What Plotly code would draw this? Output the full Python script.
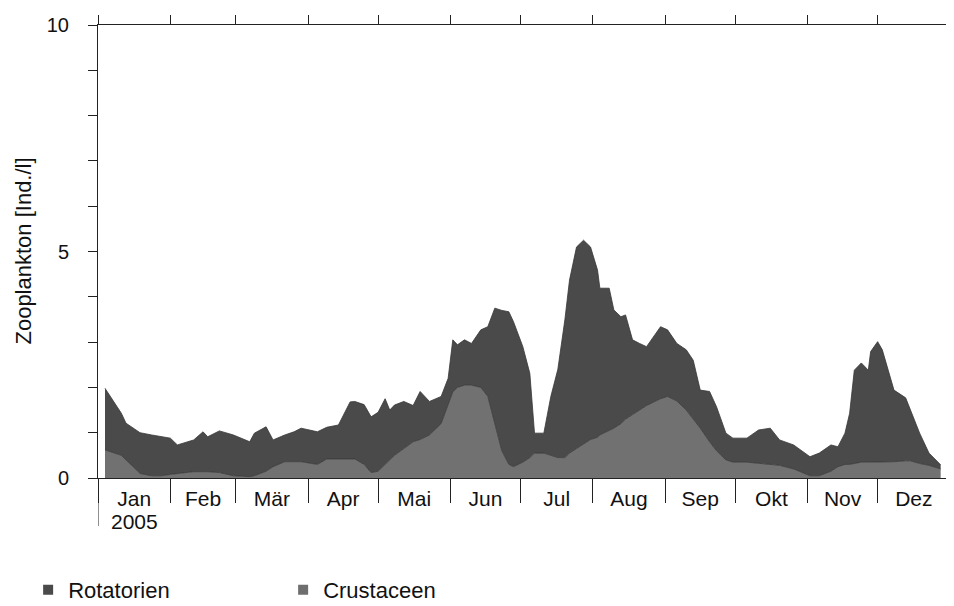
import pandas as pd
import plotly.graph_objects as go

# ---- data ----
dates = [
    "2005-01-04", "2005-01-08", "2005-01-11", "2005-01-13", "2005-01-19", "2005-01-24", "2005-01-28",
    "2005-02-01", "2005-02-04", "2005-02-11", "2005-02-15", "2005-02-17", "2005-02-22", "2005-02-28",
    "2005-03-07", "2005-03-09", "2005-03-14", "2005-03-17", "2005-03-22", "2005-03-26", "2005-03-29",
    "2005-04-05", "2005-04-09", "2005-04-14", "2005-04-19", "2005-04-21", "2005-04-25", "2005-04-28",
    "2005-05-01", "2005-05-04", "2005-05-06", "2005-05-08", "2005-05-12", "2005-05-16", "2005-05-19",
    "2005-05-23", "2005-05-28", "2005-05-31",
    "2005-06-02", "2005-06-04", "2005-06-07", "2005-06-10", "2005-06-14", "2005-06-17", "2005-06-20",
    "2005-06-23", "2005-06-26", "2005-06-28",
    "2005-07-02", "2005-07-05", "2005-07-07", "2005-07-11", "2005-07-14", "2005-07-17", "2005-07-20",
    "2005-07-22", "2005-07-25", "2005-07-28", "2005-07-31",
    "2005-08-03", "2005-08-04", "2005-08-08", "2005-08-10", "2005-08-13", "2005-08-15", "2005-08-18",
    "2005-08-21", "2005-08-24", "2005-08-30",
    "2005-09-02", "2005-09-06", "2005-09-10", "2005-09-13", "2005-09-16", "2005-09-20", "2005-09-23",
    "2005-09-27", "2005-09-30",
    "2005-10-06", "2005-10-11", "2005-10-16", "2005-10-20", "2005-10-26",
    "2005-11-02", "2005-11-06", "2005-11-11", "2005-11-14", "2005-11-17", "2005-11-19", "2005-11-21",
    "2005-11-24", "2005-11-27", "2005-11-28",
    "2005-12-01", "2005-12-03", "2005-12-06", "2005-12-08", "2005-12-13", "2005-12-15", "2005-12-19",
    "2005-12-23", "2005-12-28",
]

rotatorien = [
    1.36, 1.10, 0.93, 0.81, 0.90, 0.90, 0.86,
    0.80, 0.63, 0.70, 0.88, 0.77, 0.92, 0.90,
    0.77, 0.94, 0.98, 0.59, 0.59, 0.66, 0.74,
    0.72, 0.70, 0.75, 1.26, 1.27, 1.32, 1.23,
    1.30, 1.45, 1.10, 1.11, 1.04, 0.80, 1.06,
    0.74, 0.60, 0.60,
    1.15, 0.94, 1.00, 0.92, 1.27, 1.54, 2.55,
    3.10, 3.37, 3.20,
    2.55, 1.86, 0.44, 0.44, 1.30, 1.95, 3.04,
    3.82, 4.45, 4.50, 4.25,
    3.69, 3.24, 3.14, 2.61, 2.36, 2.30, 1.65,
    1.47, 1.30, 1.59,
    1.47, 1.27, 1.33, 1.30, 0.84, 1.11, 0.97,
    0.59, 0.53,
    0.53, 0.74, 0.80, 0.56, 0.53,
    0.42, 0.50, 0.58, 0.44, 0.69, 1.13, 2.06,
    2.19, 2.03, 2.44,
    2.66, 2.48, 1.95, 1.58, 1.39, 1.12, 0.67,
    0.27, 0.09,
]

crustaceen = [
    0.62, 0.55, 0.50, 0.40, 0.10, 0.05, 0.05,
    0.08, 0.10, 0.14, 0.14, 0.14, 0.12, 0.05,
    0.03, 0.05, 0.15, 0.25, 0.36, 0.36, 0.36,
    0.30, 0.42, 0.42, 0.42, 0.42, 0.30, 0.12,
    0.15, 0.30, 0.40, 0.50, 0.65, 0.80, 0.85,
    0.95, 1.20, 1.60,
    1.90, 2.00, 2.05, 2.05, 2.00, 1.80, 1.20,
    0.60, 0.30, 0.25,
    0.35, 0.45, 0.55, 0.55, 0.50, 0.45, 0.45,
    0.55, 0.65, 0.75, 0.85,
    0.90, 0.95, 1.05, 1.10, 1.20, 1.30, 1.40,
    1.50, 1.60, 1.75,
    1.80, 1.70, 1.50, 1.30, 1.10, 0.80, 0.60,
    0.40, 0.35,
    0.35, 0.32, 0.30, 0.28, 0.20,
    0.05, 0.05, 0.15, 0.25, 0.30, 0.30, 0.32,
    0.35, 0.35, 0.35,
    0.35, 0.35, 0.36, 0.36, 0.38, 0.38, 0.32,
    0.28, 0.20,
]

month_labels = ["Jan", "Feb", "Mär", "Apr", "Mai", "Jun",
                "Jul", "Aug", "Sep", "Okt", "Nov", "Dez"]
year_label = "2005"
y_tick_values = list(range(0, 11))
y_tick_labels = ["0", "", "", "", "", "5", "", "", "", "", "10"]

# ---- derived axis helpers ----
month_starts = pd.date_range("2005-01-01", periods=13, freq="MS")
month_mids = [month_starts[i] + (month_starts[i + 1] - month_starts[i]) / 2 for i in range(12)]
x_range = [month_starts[0], month_starts[-1]]

FONT = "Liberation Sans, Arial, Helvetica, sans-serif"
C_ROT = "#4a4a4a"
C_CRU = "#717171"
C_EDGE = "#363636"

fig = go.Figure()

fig.add_trace(go.Scatter(
    x=dates, y=crustaceen, name="Crustaceen", stackgroup="one", mode="lines",
    line=dict(width=0.8, color=C_EDGE), fillcolor=C_CRU, showlegend=False, hoverinfo="skip",
))
fig.add_trace(go.Scatter(
    x=dates, y=rotatorien, name="Rotatorien", stackgroup="one", mode="lines",
    line=dict(width=0.8, color=C_EDGE), fillcolor=C_ROT, showlegend=False, hoverinfo="skip",
))

# legend entries (square symbols)
fig.add_trace(go.Scatter(x=[None], y=[None], mode="markers", name="Rotatorien",
                         marker=dict(symbol="square", size=10, color="#4a4a4a"), xaxis="x2"))
fig.add_trace(go.Scatter(x=[None], y=[None], mode="markers", name="Crustaceen",
                         marker=dict(symbol="square", size=10, color="#6e6e6e"), xaxis="x2"))

fig.update_layout(
    width=946, height=598,
    margin=dict(l=90, r=4, t=17, b=128, autoexpand=False),
    paper_bgcolor="white", plot_bgcolor="white",
    font=dict(family=FONT, size=21, color="#111"),
    showlegend=True,
    legend=dict(orientation="h", traceorder="normal",
                x=-0.082, xanchor="left", y=-0.201, yanchor="top",
                entrywidth=210, entrywidthmode="pixels", font=dict(size=22, family=FONT),
                bgcolor="rgba(0,0,0,0)", itemclick=False),
    xaxis=dict(
        type="date", range=x_range, showgrid=False, zeroline=False, automargin=False,
        showline=True, linecolor="#222", linewidth=1,
        tickmode="array", tickvals=month_mids, ticktext=month_labels,
        ticks="outside", ticklen=2, tickcolor="rgba(0,0,0,0)",
        tickfont=dict(size=21, family=FONT),
        minor=dict(tickmode="array", tickvals=list(month_starts), ticks="outside",
                   ticklen=24, tickcolor="#222", tickwidth=1, showgrid=False),
    ),
    xaxis2=dict(
        type="date", range=x_range, overlaying="x", side="top", anchor="y", automargin=False,
        showgrid=False, zeroline=False, showline=True, linecolor="#222", linewidth=1,
        tickmode="array", tickvals=list(month_starts), ticks="outside", ticklen=9,
        tickcolor="#222", showticklabels=False,
    ),
    yaxis=dict(
        range=[0, 10], showgrid=False, zeroline=False, automargin=False,
        showline=True, linecolor="#222", linewidth=1, mirror="ticks",
        tickmode="array", tickvals=y_tick_values, ticktext=y_tick_labels,
        ticks="outside", ticklen=9, tickcolor="#222",
        tickfont=dict(size=20, family=FONT), ticklabelstandoff=15,
    ),
    annotations=[
        dict(text="Zooplankton [Ind./l]", textangle=-90, xref="paper", yref="paper",
             x=-0.088, y=0.5, xanchor="center", yanchor="middle", showarrow=False,
             font=dict(size=22, family=FONT)),
        dict(text=year_label, xref="x", yref="paper", x=month_mids[0], y=-0.097,
             xanchor="center", yanchor="middle", showarrow=False,
             font=dict(size=21, family=FONT)),
    ],
    shapes=[
        dict(type="line", xref="x", yref="paper", x0=month_starts[0], x1=month_starts[0],
             y0=0, y1=-0.106, line=dict(color="#222", width=1)),
    ],
)

fig.write_html("out.html")
